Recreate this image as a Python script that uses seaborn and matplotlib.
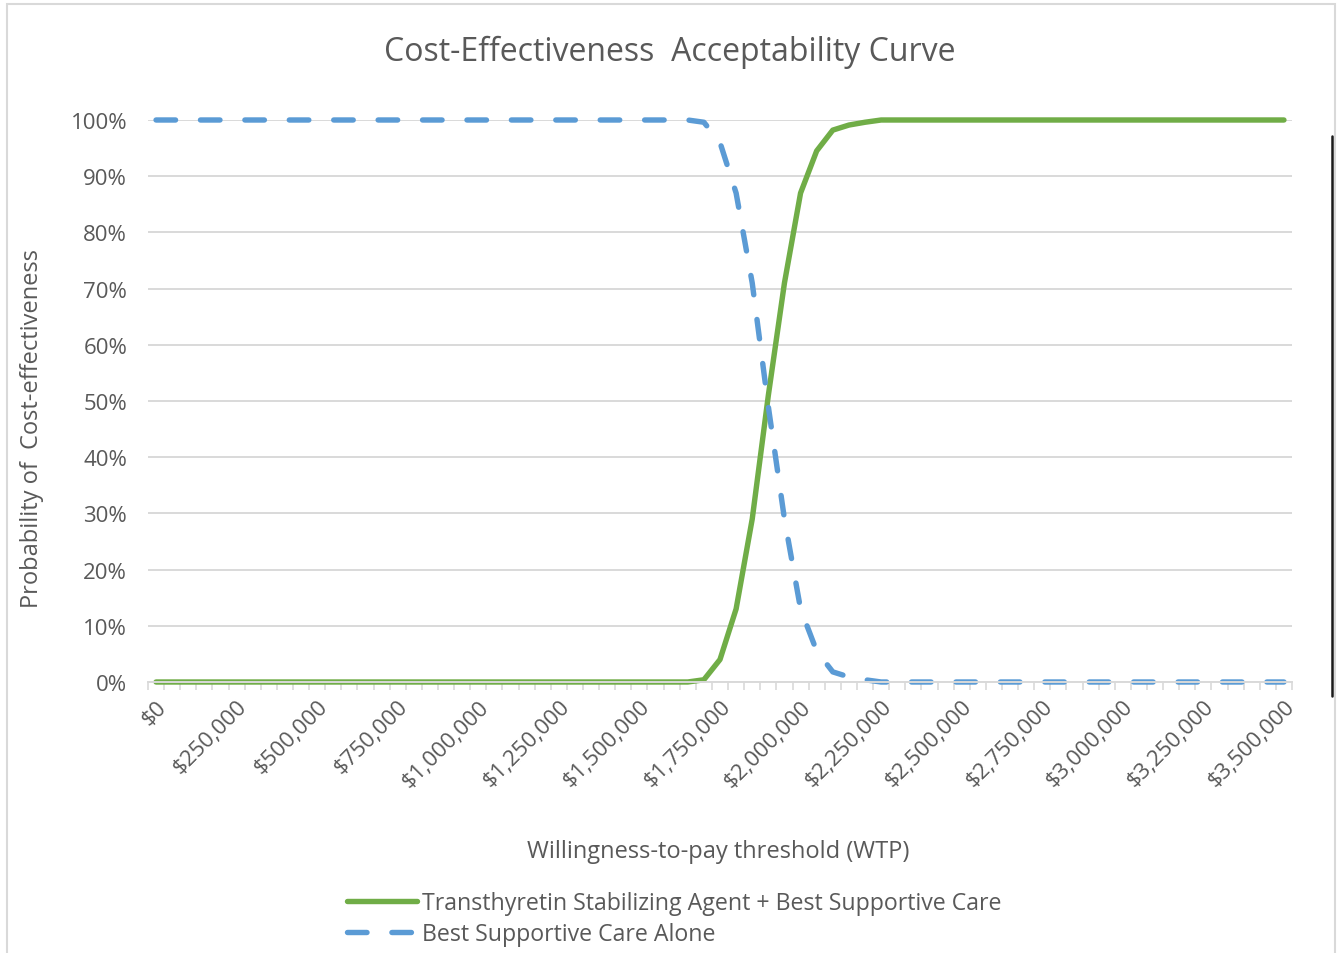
import matplotlib
matplotlib.use("Agg")
import matplotlib.pyplot as plt
import seaborn as sns
import pandas as pd
from matplotlib.lines import Line2D
from matplotlib.patches import Rectangle
from matplotlib.ticker import FuncFormatter

# Willingness-to-pay thresholds (category axis, $50,000 steps)
wtp = list(range(0, 3500001, 50000))

# probability cost-effective (%)
tafamidis = [0] * 34 + [0.4, 4, 13, 29, 51, 71, 87, 94.5, 98.2, 99.1, 99.6] + [100] * 26
bsc_alone = [100] * 34 + [99.6, 96, 87, 71, 49, 29, 13, 5.5, 1.8, 0.9, 0.4] + [0] * 26

label_a = "Transthyretin Stabilizing Agent + Best Supportive Care"
label_b = "Best Supportive Care Alone"

df = pd.DataFrame({"wtp": wtp, "a": [v / 100 for v in tafamidis],
                   "b": [v / 100 for v in bsc_alone]})

sns.set_theme(style="white")
plt.rcParams["font.family"] = ["Open Sans", "DejaVu Sans"]
grey = "#595959"

W, H = 1342, 954
fig = plt.figure(figsize=(W / 100, H / 100), dpi=100)
ax = fig.add_axes([148 / W, 1 - 683 / H, (1292 - 148) / W, (683 - 121) / H])

sns.lineplot(data=df, x="wtp", y="a", ax=ax, color="#70AD47", linewidth=3.9,
             label=label_a, solid_capstyle="round", clip_on=False)
sns.lineplot(data=df, x="wtp", y="b", ax=ax, color="#5B9BD5", linewidth=3.9,
             label=label_b, dashes=(3.6, 4.6), dash_capstyle="round", clip_on=False)

ax.set_xlim(-15500, 3515500)
ax.set_ylim(0, 1)
ax.set_yticks([i / 10 for i in range(11)])
ax.yaxis.set_major_formatter(FuncFormatter(lambda v, p: f"{v:.0%}"))
ax.set_xticks(wtp[::5])
ax.set_xticklabels([f"${v:,.0f}" for v in wtp[::5]], rotation=45,
                   ha="right", rotation_mode="anchor")
ax.set_xticks([v - 25000 for v in wtp] + [wtp[-1] + 25000], minor=True)
ax.tick_params(axis="x", which="minor", length=6, color="#D9D9D9", width=1.2,
               direction="out", bottom=True)
ax.tick_params(axis="x", which="major", length=0, labelsize=16, labelcolor=grey, pad=10)
ax.tick_params(axis="y", length=0, labelsize=16, labelcolor=grey, pad=15)
ax.grid(axis="y", color="#D9D9D9", linewidth=1.4)
for s in ["top", "right", "left"]:
    ax.spines[s].set_visible(False)
ax.spines["bottom"].set_color("#D9D9D9")
ax.spines["bottom"].set_linewidth(1.4)
ax.set_axisbelow(True)

ax.set_xlabel("")
ax.set_ylabel("")
fig.text(718 / W, 1 - 852 / H, "Willingness-to-pay threshold (WTP)", ha="center",
         va="center", fontsize=17, color=grey)
fig.text(32 / W, 1 - 428 / H, "Probability of  Cost-effectiveness", ha="center",
         va="center", rotation=90, fontsize=17, color=grey)
fig.text(670 / W, 1 - 52 / H, "Cost-Effectiveness  Acceptability Curve", ha="center",
         va="center", fontsize=23, color=grey)

ax.get_legend().remove()
handles, labels = ax.get_legend_handles_labels()
fig.legend(handles, labels, loc="upper left", bbox_to_anchor=(347 / W, 1 - 892 / H),
           frameon=False, fontsize=16.7, labelcolor=grey, handlelength=3.0,
           handletextpad=0.25, labelspacing=0.3, borderaxespad=0, borderpad=0)

# chart border and right-hand edge line from the screenshot
fig.add_artist(Rectangle((7 / W, -0.01), (1335 - 7) / W, 1.01 - 5 / H,
                         transform=fig.transFigure, fill=False, edgecolor="#D9D9D9",
                         linewidth=1.5))
fig.add_artist(Line2D([1332 / W, 1332 / W], [1 - 137 / H, 1 - 697 / H],
                      transform=fig.transFigure, color="#1a1a1a", linewidth=1.8))

fig.savefig("out.png", dpi=100)
